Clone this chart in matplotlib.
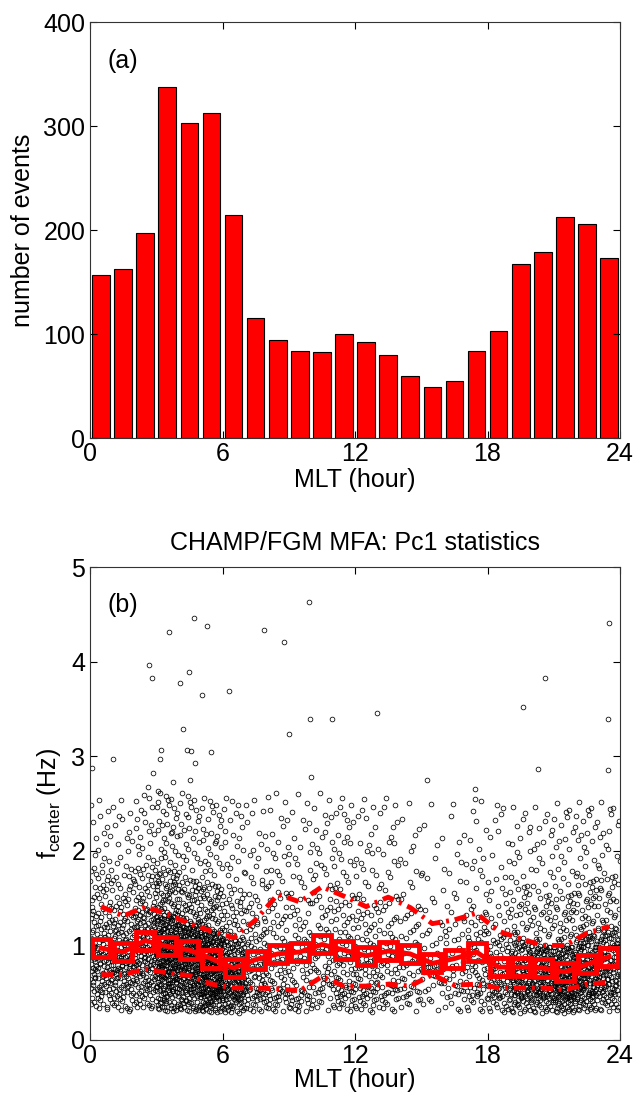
import numpy as np
import matplotlib
matplotlib.use("Agg")
import matplotlib.pyplot as plt

plt.rcParams['font.family'] = ['Liberation Sans', 'DejaVu Sans']
plt.rcParams['mathtext.fontset'] = 'custom'
plt.rcParams['mathtext.rm'] = 'Liberation Sans'
plt.rcParams['mathtext.it'] = 'Liberation Sans'

# panel (a): events per MLT hour
hours = np.arange(24) + 0.5
counts = [157, 163, 197, 338, 303, 313, 214, 115, 94, 84, 83, 100,
          92, 80, 60, 49, 55, 84, 103, 167, 179, 213, 206, 173]

# panel (b): hourly statistics of f_center (Hz)
f_median = [0.97, 0.93, 1.05, 0.99, 0.95, 0.86, 0.76, 0.85, 0.91, 0.93, 1.01, 0.95,
            0.89, 0.94, 0.91, 0.81, 0.86, 0.93, 0.77, 0.77, 0.76, 0.72, 0.80, 0.88]
f_upper = [1.41, 1.31, 1.41, 1.33, 1.23, 1.15, 1.08, 1.27, 1.54, 1.46, 1.62, 1.52,
           1.41, 1.51, 1.40, 1.23, 1.27, 1.34, 1.15, 1.07, 1.00, 1.00, 1.13, 1.20]
f_lower = [0.69, 0.69, 0.75, 0.71, 0.68, 0.59, 0.55, 0.55, 0.54, 0.52, 0.67, 0.57,
           0.57, 0.59, 0.57, 0.69, 0.58, 0.59, 0.55, 0.55, 0.55, 0.53, 0.59, 0.61]
# rough spread of the point cloud per hour
f_min = [0.32, 0.30, 0.33, 0.30, 0.30, 0.29, 0.28, 0.30, 0.30, 0.30, 0.31, 0.30,
         0.29, 0.30, 0.30, 0.31, 0.30, 0.30, 0.29, 0.28, 0.28, 0.28, 0.30, 0.30]
f_q10 = [0.50, 0.50, 0.53, 0.51, 0.49, 0.45, 0.42, 0.42, 0.42, 0.41, 0.47, 0.44,
         0.44, 0.45, 0.44, 0.50, 0.44, 0.45, 0.43, 0.43, 0.43, 0.42, 0.45, 0.46]
f_q90 = [1.85, 1.75, 1.85, 1.80, 1.70, 1.65, 1.60, 1.85, 2.10, 2.05, 2.15, 2.10,
         2.00, 2.10, 2.00, 1.85, 1.90, 1.95, 1.75, 1.65, 1.55, 1.55, 1.70, 1.75]
f_max = [2.60, 2.60, 2.65, 2.65, 2.65, 2.60, 2.60, 2.60, 2.65, 2.65, 2.65, 2.60,
         2.60, 2.60, 2.55, 2.55, 2.55, 2.60, 2.55, 2.50, 2.50, 2.55, 2.55, 2.55]
# isolated high-frequency events
out_mlt = [0.09, 1.05, 2.61, 2.68, 2.79, 2.83, 3.06, 3.18, 3.21, 3.59, 3.77, 4.08,
           4.22, 4.39, 4.49, 4.54, 4.57, 4.72, 4.76, 5.09, 5.29, 5.47, 6.30, 7.87,
           8.80, 9.03, 9.90, 9.95, 10.0, 10.94, 13.0, 15.27, 17.42, 19.59, 20.27,
           20.6, 23.45, 23.45, 23.52]
out_f = [2.88, 2.97, 2.68, 3.97, 3.83, 2.82, 2.63, 2.97, 3.07, 4.31, 2.73, 3.77,
         3.29, 3.07, 3.89, 2.75, 3.06, 4.46, 2.93, 3.65, 4.38, 3.05, 3.69, 4.34,
         4.21, 3.24, 4.63, 3.39, 2.78, 3.39, 3.46, 2.75, 2.65, 3.52, 2.87,
         3.83, 3.39, 2.85, 4.41]


def vdc(i, base):
    # van der Corput radical inverse, used to spread points inside an hour bin
    r, f = 0.0, 1.0 / base
    while i > 0:
        r += f * (i % base)
        i //= base
        f /= base
    return r


xs, ys = [], []
levels = [0.0, 0.10, 0.25, 0.50, 0.75, 0.90, 1.0]
for h in range(24):
    n_out = sum(1 for m in out_mlt if int(m) == h)
    knots = [f_min[h], f_q10[h], f_lower[h], f_median[h], f_upper[h], f_q90[h], f_max[h]]
    for i in range(counts[h] - n_out):
        j = i + 7 * h + 1
        xs.append(h + vdc(j, 3))
        ys.append(np.interp(vdc(j, 2), levels, knots))
xs += out_mlt
ys += out_f

fig = plt.figure(figsize=(6.34, 10.97), dpi=100)
ax1 = fig.add_axes([0.142, 0.6007, 0.836, 0.3792])
ax2 = fig.add_axes([0.142, 0.052, 0.836, 0.431])

fs = 18
ax1.bar(hours, counts, width=0.8, color='red', edgecolor='black', linewidth=0.8)
ax1.set_xlim(0, 24)
ax1.set_ylim(0, 400)
ax1.set_yticks([0, 100, 200, 300, 400])
ax1.set_xlabel('MLT (hour)', fontsize=fs, labelpad=1)
ax1.set_ylabel('number of events', fontsize=fs, labelpad=6)
ax1.text(0.8, 363, '(a)', fontsize=fs, va='center')

ax2.plot(xs, ys, 'o', ms=3.4, mfc='none', mec='black', mew=0.55)
dashdot = (0, (2.5, 1.2, 0.6, 1.2))
ax2.plot(hours, f_upper, color='red', lw=3.5, ls=dashdot)
ax2.plot(hours, f_lower, color='red', lw=3.5, ls=dashdot)
ax2.plot(hours, f_median, color='red', lw=3.5, marker='s', ms=13, mfc='none', mew=3.5)
ax2.set_xlim(0, 24)
ax2.set_ylim(0, 5)
ax2.set_yticks([0, 1, 2, 3, 4, 5])
ax2.set_xlabel('MLT (hour)', fontsize=fs, labelpad=0)
ax2.set_ylabel(r'f$_{\rm center}$ (Hz)', fontsize=fs, labelpad=6)
ax2.set_title('CHAMP/FGM MFA: Pc1 statistics', fontsize=fs, pad=12)
ax2.text(0.8, 4.6, '(b)', fontsize=fs, va='center')

for ax in (ax1, ax2):
    ax.set_xticks([0, 6, 12, 18, 24])
    ax.tick_params(direction='in', top=True, right=True, length=5, labelsize=fs, width=0.8)
    ax.tick_params(axis='x', pad=3)
    for s in ax.spines.values():
        s.set_linewidth(0.8)
        s.set_color('0.2')

fig.savefig('out.png', dpi=100)
